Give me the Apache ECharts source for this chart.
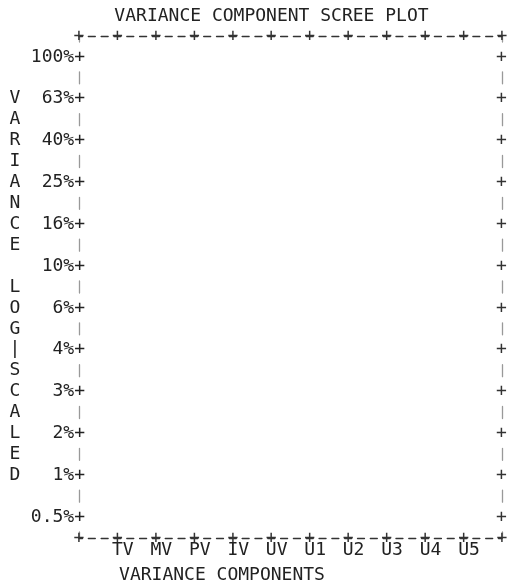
<!DOCTYPE html>
<html><head><meta charset="utf-8">
<script src="https://cdn.jsdelivr.net/npm/echarts@6/dist/echarts.min.js"></script>
<style>html,body{margin:0;padding:0;background:#fff}#c{width:507px;height:588px}</style>
</head><body><div id="c"></div>
<script>
// ---- data ----
const categories = ['TV','MV','PV','IV','UV','U1','U2','U3','U4','U5'];
const pointLetters = ['T','M','P','I','U','1','2','3','4','5'];
const variancePct = [100, 40, 16, 32, 40, 12.6, 7.9, 5.0, 4.0, 2.5];
const tickLabels = ['100%','63%','40%','25%','16%','10%','6%','4%','3%','2%','1%','0.5%'];
const titleText = 'VARIANCE COMPONENT SCREE PLOT';
const xName = 'VARIANCE COMPONENTS';
const yName = 'VARIANCE LOG|SCALED';

// ---- styling / layout ----
const FONT = '"DejaVu Sans Mono", "Liberation Mono", monospace';
const FS = 18;
const INK = '#222';
const GL = 79, GT = 36, GR = 502, GB = 538;
const W = 507, H = 588;
const rowH = (GB - GT) / 24;
const colW = (GR - GL) / 33;

function log10(x) {
  let e = 0;
  while (x >= 10) { x /= 10; e++; }
  while (x < 1) { x *= 10; e--; }
  const z = (x - 1) / (x + 1), z2 = z * z;
  let term = z, sum = 0;
  for (let k = 1; k < 400; k += 2) { sum += term / k; term *= z2; }
  return e + (2 * sum) / 2.302585092994046;
}

const Y_MIN = -2.3, Y_MAX = 0.1, Y_STEP = 0.1;
function yLabel(v, withText) {
  const r = Math.round((Y_MAX - v) / Y_STEP);
  if (r <= 0 || r >= 24 || r % 2 === 0) return '';
  const idx = (r - 1) / 2;
  return (withText ? tickLabels[idx] : '') + '+';
}
const data = variancePct.map((v, i) => [i + 1, log10(v)]);

const hLine = { show: true, onZero: false, lineStyle: { color: '#333', width: 1.3, type: [7, colW - 7], dashOffset: 3.5 } };
const vLine = { show: true, onZero: false, lineStyle: { color: '#999', width: 1.3, type: [12, 2 * rowH - 12], dashOffset: 6 } };

function txt(id, x, y, text, extra) {
  return Object.assign({ type: 'text', id: id, x: x, y: y, silent: true,
    style: Object.assign({ text: text, font: FS + 'px ' + FONT, fill: INK, align: 'center', verticalAlign: 'middle', textAlign: 'center', textVerticalAlign: 'middle' }, extra || {}) });
}
const staticGraphic = [
  txt('title', 271.5, 16.5, titleText),
  txt('xname', 222, 575, xName),
  txt('yname', 15, GT + 3 * rowH - rowH / 2, yName.split('').join('\n'), { lineHeight: rowH, verticalAlign: 'top', textVerticalAlign: 'top' })
];

const chart = echarts.init(document.getElementById('c'), null, { renderer: 'canvas' });
chart.setOption({
  animation: false,
  backgroundColor: '#fff',
  grid: { left: GL, top: GT, right: W - GR, bottom: H - GB, containLabel: false, outerBoundsMode: 'none' },
  xAxis: [
    {
      type: 'value', position: 'bottom', min: 0, max: categories.length + 1, interval: 1,
      axisLine: hLine, axisTick: { show: false }, splitLine: { show: false },
      axisLabel: {
        show: true, margin: -6, showMinLabel: true, showMaxLabel: true, hideOverlap: false,
        formatter: v => '{p|+}\n{c| ' + (categories[v - 1] || '') + '}',
        rich: {
          p: { fontFamily: FONT, fontSize: FS, lineHeight: 12, color: '#333' },
          c: { fontFamily: FONT, fontSize: FS, lineHeight: 12, color: INK }
        }
      }
    },
    {
      type: 'value', position: 'top', min: 0, max: categories.length + 1, interval: 1,
      axisLine: hLine, axisTick: { show: false }, splitLine: { show: false },
      axisLabel: {
        show: true, margin: -10, showMinLabel: true, showMaxLabel: true, hideOverlap: false,
        formatter: () => '+', fontFamily: FONT, fontSize: FS, lineHeight: 20, color: '#333'
      }
    }
  ],
  yAxis: [
    {
      type: 'value', position: 'left', min: Y_MIN, max: Y_MAX, interval: Y_STEP,
      axisLine: vLine, axisTick: { show: false }, splitLine: { show: false },
      axisLabel: {
        show: true, margin: -6, hideOverlap: false, showMinLabel: true, showMaxLabel: true,
        formatter: v => yLabel(v, true), fontFamily: FONT, fontSize: FS, color: INK
      }
    },
    {
      type: 'value', position: 'right', min: Y_MIN, max: Y_MAX, interval: Y_STEP,
      axisLine: vLine, axisTick: { show: false }, splitLine: { show: false },
      axisLabel: {
        show: true, margin: -6, hideOverlap: false, showMinLabel: true, showMaxLabel: true,
        formatter: v => yLabel(v, false), fontFamily: FONT, fontSize: FS, color: '#333'
      }
    }
  ],
  graphic: staticGraphic,
  series: []
});

// place the point letters through the chart's own axis scales
const pointGraphic = data.map((d, i) => {
  const px = chart.convertToPixel({ xAxisIndex: 0, yAxisIndex: 0 }, d);
  return txt('pt' + i, px[0], px[1], pointLetters[i]);
});
chart.setOption({ graphic: staticGraphic.concat(pointGraphic) });
</script></body></html>
